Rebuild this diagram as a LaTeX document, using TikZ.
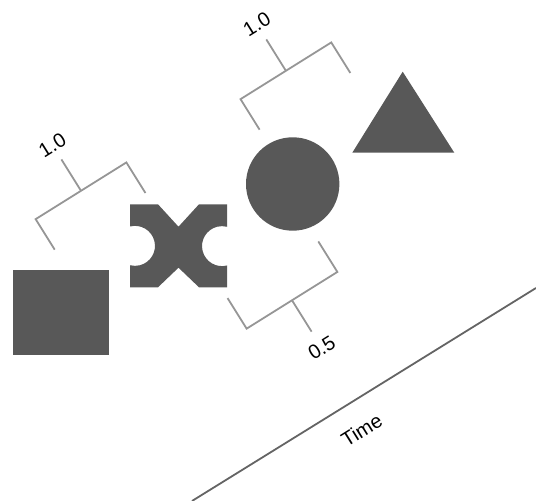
\documentclass[tikz,border=0pt]{standalone}
\usepackage{fontspec}
\setmainfont{Liberation Sans}
\usepackage{tikz}
\usetikzlibrary{positioning}
\definecolor{shapegray}{RGB}{88,88,88}
\definecolor{bracegray}{RGB}{150,150,150}
\definecolor{axisgray}{RGB}{100,100,100}

\begin{document}
\begin{tikzpicture}[x=1pt,y=1pt,
  shp/.style={fill=shapegray,draw=none},
  brace/.style={draw=bracegray,line width=1.8pt},
  axis/.style={draw=axisgray,line width=1.8pt},
  lbl/.style={font=\fontsize{20}{24}\selectfont,rotate=32,inner sep=0pt}
]
\useasboundingbox (0,0) rectangle (536,501);

%--- shapes ---
\fill[shp] (13.3,146) rectangle (109.3,231);
% notched cross
\fill[shp] (130,213.7) -- (158,213.7) -- (178.5,233.3) -- (199,213.7) -- (227,213.7)
  -- (227,235.5) arc[start angle=-75.6,end angle=-284.4,radius=20]
  -- (227,296.7) -- (199,296.7) -- (178.5,274.3) -- (158,296.7) -- (130,296.7)
  -- (130,274.5) arc[start angle=104.4,end angle=-104.4,radius=20] -- cycle;
\fill[shp] (292.7,317) circle[radius=46.7];
\fill[shp] (352.3,348.3) -- (454.3,348.3) -- (402.7,429.3) -- cycle;

%--- brackets ---
\begin{scope}[shift={(81,310.2)},rotate=32]
  \coordinate (j1) at (0,0);
  \draw[brace] (-53.5,-36) -- (-53.5,0) -- (53.5,0) -- (53.5,-36);
  \draw[brace] (j1) -- (0,37) coordinate (s1);
  \node[lbl] (d1) at (0,54) {1.0};
\end{scope}
\begin{scope}[shift={(285.9,430.2)},rotate=32]
  \coordinate (j2) at (0,0);
  \draw[brace] (-53.5,-36) -- (-53.5,0) -- (53.5,0) -- (53.5,-36);
  \draw[brace] (j2) -- (0,37) coordinate (s2);
  \node[lbl] (d2) at (0,55) {1.0};
\end{scope}
\begin{scope}[shift={(292,200.7)},rotate=32]
  \coordinate (j3) at (0,0);
  \draw[brace] (-53.5,36) -- (-53.5,0) -- (53.5,0) -- (53.5,36);
  \draw[brace] (j3) -- (0,-37) coordinate (s3);
  \node[lbl] (d3) at (0,-56) {0.5};
\end{scope}

%--- time axis ---
\coordinate (t0) at (192,0);
\coordinate (t1) at (536,213);
\draw[axis] (t0) -- (t1);
\node[lbl] (time) at (361.7,71) {Time};
\end{tikzpicture}
\end{document}
